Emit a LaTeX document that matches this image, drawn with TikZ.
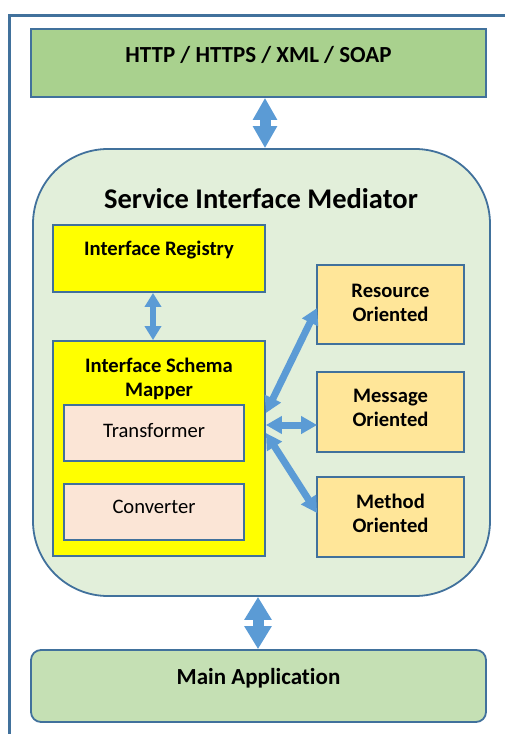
\documentclass[tikz,border=0pt]{standalone}
\usepackage{fontspec}
\setmainfont{Carlito}[Ligatures=NoCommon]
\usetikzlibrary{arrows.meta,calc}
\definecolor{bord}{HTML}{41719C}
\definecolor{arr}{HTML}{5B9BD5}
\definecolor{gtop}{HTML}{A9D18E}
\definecolor{gmed}{HTML}{E2EFDA}
\definecolor{gmain}{HTML}{C5E0B4}
\definecolor{ylw}{HTML}{FFFF00}
\definecolor{peach}{HTML}{FBE5D6}
\definecolor{gold}{HTML}{FFE699}
\tikzset{
  box/.style={draw=bord, line width=1.8pt, rectangle, inner sep=0pt},
  bigf/.style={font=\fontsize{23}{27}\selectfont\bfseries},
  midf/.style={font=\fontsize{20.6}{24}\selectfont\bfseries, align=center},
  regf/.style={font=\fontsize{20.6}{24}\selectfont},
  bigarrow/.style={draw=arr, line width=11pt, {Triangle[length=22pt,width=23pt]}-{Triangle[length=22pt,width=23pt]}},
  bigarrowb/.style={draw=arr, line width=11pt, {Triangle[length=23pt,width=26pt]}-{Triangle[length=23pt,width=26pt]}},
  smallarrow/.style={draw=arr, line width=6pt, {Triangle[length=14pt,width=16pt]}-{Triangle[length=14pt,width=16pt]}},
  diagarrow/.style={draw=arr, line width=7pt, {Triangle[length=16pt,width=17pt]}-{Triangle[length=16pt,width=17pt]}},
}
\begin{document}
\begin{tikzpicture}[x=1pt,y=-1pt]
\useasboundingbox (0,0) rectangle (505,734);
% outer frame
\draw[draw=bord, line width=2.2pt] (9.5,740) -- (9.5,15.5) -- (510,15.5);
% top box
\node[box, fill=gtop, minimum width=455pt, minimum height=68pt,
      label={[bigf, yshift=8pt]center:HTTP / HTTPS / XML / SOAP}] (http) at (258.5,63) {};
% mediator
\node[box, fill=gmed, rounded corners=75pt, minimum width=457pt, minimum height=447pt] (med) at (261.5,372.5) {};
\node[font=\fontsize{28.5}{32}\selectfont\bfseries] (medt) at (261,199) {Service Interface Mediator};
% registry
\node[box, fill=ylw, minimum width=212pt, minimum height=67pt,
      label={[midf, yshift=8pt]center:Interface Registry}] (reg) at (159,258.5) {};
% mapper
\node[box, fill=ylw, minimum width=212pt, minimum height=215pt] (map) at (159,448.5) {};
\node[midf] (mapt) at (159,379) {Interface Schema\\Mapper};
\node[box, fill=peach, minimum width=180pt, minimum height=56pt,
      label={[regf, yshift=2pt]center:Transformer}] (trans) at (154,433) {};
\node[box, fill=peach, minimum width=180pt, minimum height=56pt,
      label={[regf, yshift=5pt]center:Converter}] (conv) at (154,512) {};
% oriented boxes
\node[box, fill=gold, minimum width=147pt, minimum height=79pt,
      label={[midf, yshift=2pt]center:Resource\\Oriented}] (res) at (390.5,304.5) {};
\node[box, fill=gold, minimum width=147pt, minimum height=80pt,
      label={[midf, yshift=4pt]center:Message\\Oriented}] (msg) at (390.5,412) {};
\node[box, fill=gold, minimum width=147pt, minimum height=80pt,
      label={[midf, yshift=4pt]center:Method\\Oriented}] (meth) at (390.5,517) {};
% main application
\node[box, fill=gmain, rounded corners=10pt, minimum width=455pt, minimum height=72pt,
      label={[bigf, yshift=8pt]center:Main Application}] (main) at (258.5,686) {};
% arrows
\draw[bigarrow] ($(http.south)+(6.5,0)$) -- ($(med.north)+(3.5,0)$);
\draw[smallarrow] ($(reg.south)+(-6,0)$) -- ($(map.north)+(-6,0)$);
\draw[bigarrowb] ($(med.south)+(-3.5,0)$) -- ($(main.north)+(-0.5,0)$);
\draw[diagarrow] ($(map.east)+(0,-35.5)$) -- ($(res.west)+(1,3.5)$);
\draw[diagarrow] ($(map.east)+(0,-23.5)$) -- ($(msg.west)+(1,13)$);
\draw[diagarrow] ($(map.east)+(0,-15.5)$) -- ($(meth.west)+(1,-4)$);
\end{tikzpicture}
\end{document}
